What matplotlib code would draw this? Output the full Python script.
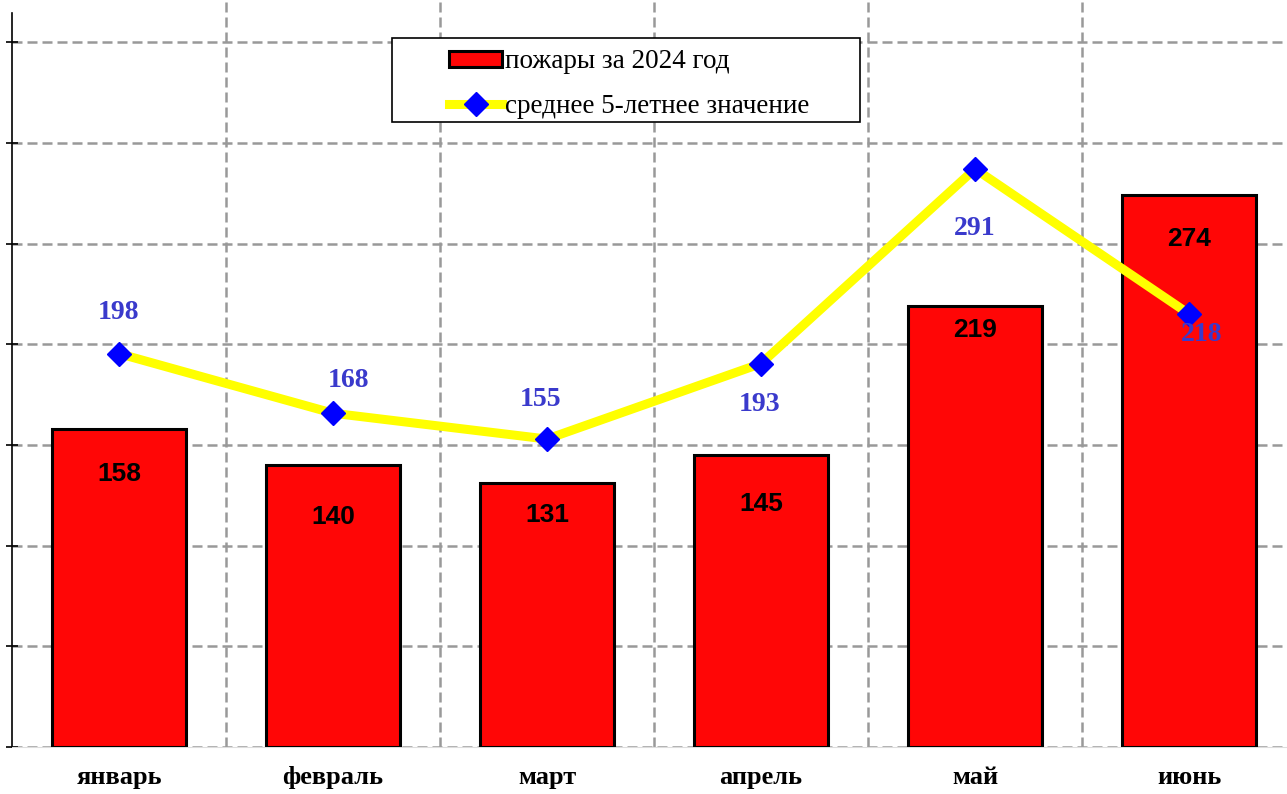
import numpy as np
import matplotlib.pyplot as plt
from matplotlib.patches import Rectangle

months = ['январь', 'февраль', 'март', 'апрель', 'май', 'июнь']
fires_2024 = [158, 140, 131, 145, 219, 274]
avg_5y = [198, 168, 155, 193, 291, 218]

# label offsets in pixels (dx, dy) relative to the value
bar_lbl_dy = [-45, -52, -32, -49, -24, -44]
line_lbl_off = [(0, 41), (16, 33), (-6, 40), (-1, -41), (0, -60), (13, -21)]

W, H = 1287, 794
fig = plt.figure(figsize=(W / 100, H / 100), dpi=100)
ax = fig.add_axes([12 / W, 47 / H, 1284 / W, 747 / H])
x = np.arange(len(months))

bars = ax.bar(x, fires_2024, width=0.626, color='#ff0606', edgecolor='black',
              linewidth=2.2, zorder=3, label='пожары за 2024 год')
ax.set_xlim(-0.5, len(months) - 0.5)
ax.set_ylim(0, 371)
ax.set_yticks(np.arange(0, 351, 50))
ax.set_yticklabels([])
ax.set_xticks(x)
ax.set_xticklabels(months, fontsize=19, fontweight='bold', family='Liberation Serif')
ax.set_xticks(np.arange(0.5, len(months) - 0.5, 1), minor=True)
ax.tick_params(axis='x', which='both', length=0, pad=14)
ax.tick_params(axis='y', direction='inout', length=9, width=1.2)
ax.grid(axis='y', color='#999999', linestyle=(0, (4, 2)), linewidth=1.8, zorder=0)
ax.grid(axis='x', which='minor', color='#999999', linestyle=(0, (4, 2)), linewidth=1.8, zorder=0)
for s in ['top', 'right']:
    ax.spines[s].set_visible(False)
ax.spines['bottom'].set_color('#dddddd')
ax.spines['left'].set_linewidth(1.2)
ax.spines['left'].set_bounds(0, 364.5)

for xi, v, dy in zip(x, fires_2024, bar_lbl_dy):
    ax.annotate(str(v), (xi, v), xytext=(0, dy * 0.72), textcoords='offset points',
                ha='center', va='center', fontsize=19, fontweight='bold',
                family='Liberation Sans', color='black', zorder=5)

ax2 = ax.twinx()
ax2.set_position(ax.get_position())
ax2.set_ylim(0, 376)
ax2.axis('off')
line, = ax2.plot(x, avg_5y, color='#ffff00', linewidth=6.5, marker='D',
                 markersize=12, markerfacecolor='#0000ff', markeredgecolor='#0000ff',
                 zorder=4, label='среднее 5-летнее значение')
for xi, v, (dx, dy) in zip(x, avg_5y, line_lbl_off):
    ax2.annotate(str(v), (xi, v), xytext=(dx * 0.72, dy * 0.72), textcoords='offset points',
                 ha='center', va='center', fontsize=20, fontweight='bold',
                 family='Liberation Serif', color='#3a3acc', zorder=6)

# legend box frame
fig.add_artist(Rectangle((392 / W, 1 - 122 / H), (860 - 392) / W, (122 - 38) / H,
                         transform=fig.transFigure, facecolor='white',
                         edgecolor='black', linewidth=1.2, zorder=9))
leg = fig.legend([bars, line], ['пожары за 2024 год', 'среднее 5-летнее значение'],
                 loc='upper left', bbox_to_anchor=(444 / W, 1 - 44 / H),
                 prop={'family': 'Liberation Serif', 'size': 19.5},
                 frameon=False, handlelength=1.95, handleheight=0.5,
                 handletextpad=0.1, borderpad=0.2,
                 labelspacing=0.72, borderaxespad=0)
leg.set_zorder(10)

fig.savefig('out.png', dpi=100)
